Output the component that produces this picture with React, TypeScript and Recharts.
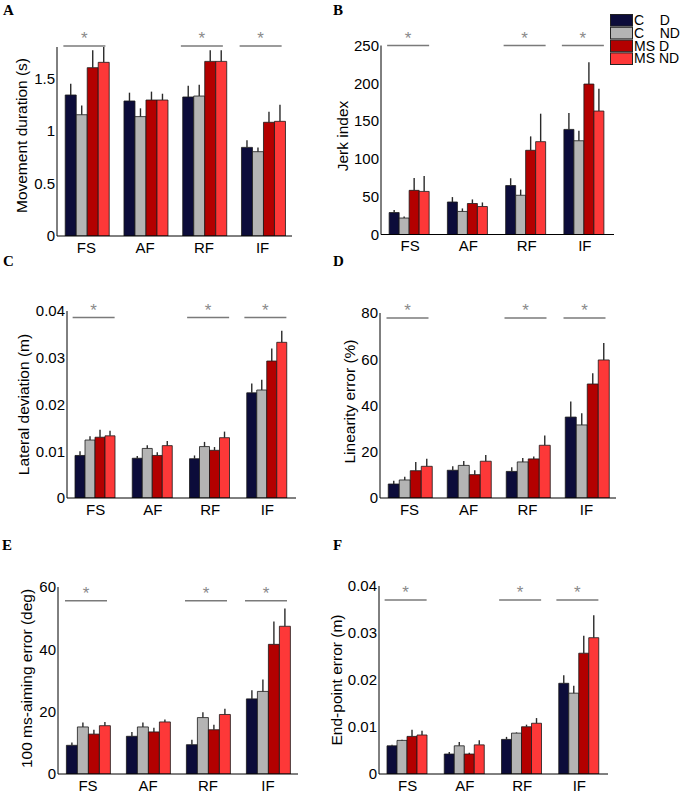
import React from 'react';
import { BarChart, Bar, XAxis, YAxis, ErrorBar, ReferenceDot, Legend } from 'recharts';

const categories = ['FS', 'AF', 'RF', 'IF'];
const seriesNames = ['C    D', 'C    ND', 'MS D', 'MS ND'];
const seriesColors = ['#0c0c3a', '#b4b4b4', '#b30000', '#fd3838'];
const significantGroups = ['FS', 'RF', 'IF'];
const panelLetters = ['A', 'B', 'C', 'D', 'E', 'F'];

// A: Movement duration (s) — rows: C D, C ND, MS D, MS ND ; columns: FS, AF, RF, IF
const durationMeans = [
  [1.343, 1.286, 1.324, 0.844],
  [1.155, 1.137, 1.333, 0.803],
  [1.603, 1.295, 1.663, 1.083],
  [1.654, 1.295, 1.663, 1.092],
];
const durationErrors = [
  [0.107, 0.079, 0.106, 0.067],
  [0.089, 0.079, 0.107, 0.041],
  [0.165, 0.08, 0.105, 0.101],
  [0.146, 0.06, 0.105, 0.158],
];
const durationTicks = [0, 0.5, 1, 1.5];

// B: Jerk index
const jerkMeans = [
  [29, 43, 64.7, 139],
  [21.8, 30.5, 51.9, 124],
  [58.4, 41, 111.4, 199],
  [57, 37, 122.8, 163.3],
];
const jerkErrors = [
  [3.5, 6.5, 9.7, 21.7],
  [2, 4, 7.5, 13.3],
  [16.3, 5.4, 18.4, 29],
  [20.3, 5.4, 37, 29.5],
];
const jerkTicks = [0, 50, 100, 150, 200, 250];

// C: Lateral deviation (m)
const lateralMeans = [
  [0.0091, 0.0085, 0.0084, 0.0225],
  [0.0124, 0.0106, 0.011, 0.0231],
  [0.013, 0.0091, 0.0102, 0.0293],
  [0.0133, 0.0112, 0.0129, 0.0333],
];
const lateralErrors = [
  [0.0009, 0.0005, 0.0007, 0.002],
  [0.0008, 0.0007, 0.001, 0.0022],
  [0.0016, 0.0007, 0.0007, 0.0027],
  [0.0011, 0.001, 0.0013, 0.0025],
];
const lateralTicks = [0, 0.01, 0.02, 0.03, 0.04];

// D: Linearity error (%)
const linearityMeans = [
  [6.05, 12, 11.5, 35],
  [7.8, 14.1, 15.6, 31.6],
  [11.8, 10.1, 16.9, 49.3],
  [13.7, 15.9, 22.8, 59.7],
];
const linearityErrors = [
  [1.45, 1.7, 1.8, 6.7],
  [1.4, 1.9, 1.7, 5],
  [3.8, 1.9, 1.1, 4.6],
  [3.3, 2.7, 4.2, 7.3],
];
const linearityTicks = [0, 20, 40, 60, 80];

// E: 100 ms-aiming error (deg)
const aimingMeans = [
  [9.2, 12.1, 9.4, 24.1],
  [15.1, 15.1, 18.1, 26.5],
  [12.8, 13.5, 14.2, 41.6],
  [15.5, 16.7, 19.1, 47.4],
];
const aimingErrors = [
  [0.9, 1.4, 1.6, 2.8],
  [1.4, 1.4, 1.7, 3.8],
  [1.4, 1.3, 1.6, 7.3],
  [1.2, 0.8, 1.8, 5.7],
];
const aimingTicks = [0, 20, 40, 60];

// F: End-point error (m)
const endpointMeans = [
  [0.006, 0.00425, 0.00736, 0.0193],
  [0.00715, 0.006, 0.0087, 0.0172],
  [0.008, 0.00425, 0.01005, 0.0257],
  [0.0083, 0.0062, 0.0108, 0.029],
];
const endpointErrors = [
  [0.0002, 0.00045, 0.00054, 0.0017],
  [0.00015, 0.0008, 0.00015, 0.0016],
  [0.0014, 0.00025, 0.00045, 0.0037],
  [0.0009, 0.001, 0.0011, 0.0048],
];
const endpointTicks = [0, 0.01, 0.02, 0.03, 0.04];

const FONT = 'Liberation Sans, Arial, Helvetica, sans-serif';

const panels = [
  { letter: panelLetters[0], title: 'Movement duration (s)', means: durationMeans, errors: durationErrors, ticks: durationTicks, domain: [0, 1.8], sig: 1.81,
    left: 0, top: 0, width: 300, height: 265, mTop: 47, mRight: 8, yW: 57, xH: 29, labelX: 21, labelDy: -6, letterX: 3, letterY: 15, legend: false },
  { letter: panelLetters[1], title: 'Jerk index', means: jerkMeans, errors: jerkErrors, ticks: jerkTicks, domain: [0, 250], sig: 250,
    left: 330, top: 0, width: 355, height: 265, mTop: 45.5, mRight: 71, yW: 51, xH: 30.5, labelX: 342, labelDy: -4, letterX: 333, letterY: 15, legend: true },
  { letter: panelLetters[2], title: 'Lateral deviation (m)', means: lateralMeans, errors: lateralErrors, ticks: lateralTicks, domain: [0, 0.04], sig: 0.0386,
    left: 0, top: 265, width: 305, height: 265, mTop: 46, mRight: 9, yW: 67, xH: 32, labelX: 23, labelDy: 0, letterX: 3, letterY: 266, legend: false },
  { letter: panelLetters[3], title: 'Linearity error (%)', means: linearityMeans, errors: linearityErrors, ticks: linearityTicks, domain: [0, 80], sig: 77.8,
    left: 330, top: 265, width: 355, height: 265, mTop: 48, mRight: 69, yW: 50, xH: 32, labelX: 349, labelDy: -4, letterX: 333, letterY: 266, legend: false },
  { letter: panelLetters[4], title: '100 ms-aiming error (deg)', means: aimingMeans, errors: aimingErrors, ticks: aimingTicks, domain: [0, 60], sig: 55.6,
    left: 0, top: 530, width: 305, height: 265, mTop: 57, mRight: 7, yW: 58, xH: 21, labelX: 26, labelDy: -2, letterX: 2, letterY: 550, legend: false },
  { letter: panelLetters[5], title: 'End-point error (m)', means: endpointMeans, errors: endpointErrors, ticks: endpointTicks, domain: [0, 0.04], sig: 0.037,
    left: 320, top: 530, width: 365, height: 265, mTop: 56, mRight: 77, yW: 59, xH: 21, labelX: 336, labelDy: 0, letterX: 333, letterY: 550, legend: false },
];

const SigMark = (props: any) => {
  const { cx, cy } = props;
  return (
    <g>
      <line x1={cx - 23} x2={cx + 19} y1={cy} y2={cy} stroke="#7a7a7a" strokeWidth={1.5} />
      <text x={cx - 2} y={cy - 2} textAnchor="middle" fontSize={17} fill="#8a8a8a" fontFamily={FONT}>*</text>
    </g>
  );
};

const LegendBox = () => (
  <svg width={80} height={53} style={{ display: 'block', overflow: 'visible' }}>
    {seriesNames.map((n, i) => (
      <g key={n}>
        <rect x={0.5} y={i * 12.8 + 0.5} width={22} height={11.6} fill={seriesColors[i]} stroke="#222" strokeWidth={1} />
        <text x={24} y={i * 12.8 + 11} fontFamily={FONT} fontSize={14} fill="#000" style={{ whiteSpace: 'pre' }} xmlSpace="preserve">
          {n}
        </text>
      </g>
    ))}
  </svg>
);

function Panel({ cfg }: { cfg: any }) {
  const data = categories.map((cat, i) => {
    const row: any = { cat };
    cfg.means.forEach((m: number[], s: number) => {
      row['s' + s] = m[i];
      row['e' + s] = [0, cfg.errors[s][i]];
    });
    return row;
  });
  return (
    <div style={{ position: 'absolute', left: cfg.left, top: cfg.top }}>
      <BarChart
        width={cfg.width}
        height={cfg.height}
        data={data}
        margin={{ top: cfg.mTop, right: cfg.mRight, bottom: 0, left: 0 }}
        barCategoryGap="14%"
        barGap={0}
      >
        <XAxis
          dataKey="cat"
          height={cfg.xH}
          axisLine={{ stroke: '#000', strokeWidth: 1 }}
          tickLine={false}
          tickSize={0}
          tickMargin={6}
          tick={{ fontSize: 15, fill: '#000', fontFamily: FONT }}
          interval={0}
        />
        <YAxis
          width={cfg.yW}
          domain={cfg.domain}
          ticks={cfg.ticks}
          allowDataOverflow
          axisLine={{ stroke: '#000', strokeWidth: 1 }}
          tickLine={false}
          tickSize={0}
          tickMargin={2}
          interval={0}
          tick={{ fontSize: 15, fill: '#000', fontFamily: FONT }}
        />
        {seriesNames.map((n, s) => (
          <Bar key={n} dataKey={'s' + s} name={n} fill={seriesColors[s]} stroke="#1a1a1a" strokeWidth={0.8} isAnimationActive={false}>
            <ErrorBar dataKey={'e' + s} width={0} stroke="#2a2a2a" strokeWidth={1.4} direction="y" isAnimationActive={false} />
          </Bar>
        ))}
        {significantGroups.map((g) => (
          <ReferenceDot key={g} x={g} y={cfg.sig} ifOverflow="visible" shape={SigMark} />
        ))}
        {cfg.legend && (
          <Legend
            layout="vertical"
            align="center"
            verticalAlign="middle"
            wrapperStyle={{ left: 280, top: 14.3, width: 80, height: 53 }}
            content={LegendBox}
          />
        )}
      </BarChart>
    </div>
  );
}

export default function App() {
  return (
    <div style={{ position: 'absolute', left: 0, top: 0, width: 685, height: 795, background: '#fff' }}>
      {panels.map((p) => (
        <Panel key={p.letter} cfg={p} />
      ))}
      <svg width={685} height={795} style={{ position: 'absolute', left: 0, top: 0, pointerEvents: 'none' }}>
        {panels.map((p) => {
          const plotCenter = p.top + (p.mTop + (p.height - p.xH)) / 2 + p.labelDy;
          return (
            <g key={p.letter}>
              <text x={p.letterX} y={p.letterY} fontFamily="Liberation Serif, Times New Roman, serif" fontWeight="bold" fontSize={15} fill="#000">
                {p.letter}
              </text>
              <text
                x={p.labelX}
                y={plotCenter}
                transform={`rotate(-90, ${p.labelX}, ${plotCenter})`}
                textAnchor="middle"
                dominantBaseline="central"
                fontFamily={FONT}
                fontSize={15.5}
                fill="#000"
              >
                {p.title}
              </text>
            </g>
          );
        })}
      </svg>
    </div>
  );
}
